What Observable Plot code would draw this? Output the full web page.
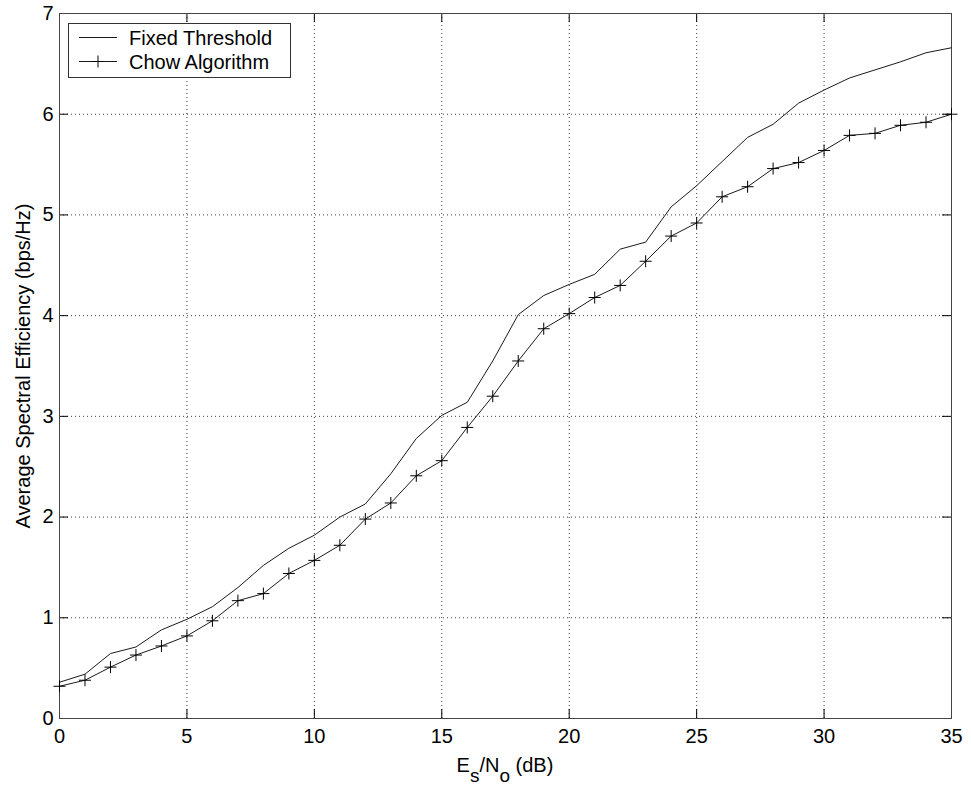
<!DOCTYPE html>
<html>
<head>
<meta charset="utf-8">
<script src="https://cdn.jsdelivr.net/npm/d3@7"></script>
<script src="https://cdn.jsdelivr.net/npm/@observablehq/plot@0.6"></script>
<style>
  body { margin: 0; background: #fff; }
  #chart { width: 971px; height: 785px; }
</style>
</head>
<body>
<div id="chart"></div>
<script>
// Es/No operating points (dB)
const snrDb = [0, 1, 2, 3, 4, 5, 6, 7, 8, 9, 10, 11, 12, 13, 14, 15, 16, 17,
  18, 19, 20, 21, 22, 23, 24, 25, 26, 27, 28, 29, 30, 31, 32, 33, 34, 35];

// Average spectral efficiency (bps/Hz), fixed-threshold bit loading
const fixedThreshold = [0.36, 0.44, 0.645, 0.71, 0.88, 0.985, 1.11, 1.30, 1.52, 1.69,
  1.82, 2.00, 2.13, 2.43, 2.78, 3.01, 3.14, 3.55, 4.01, 4.20, 4.31, 4.41, 4.66, 4.73,
  5.08, 5.29, 5.53, 5.77, 5.90, 6.11, 6.24, 6.36, 6.44, 6.52, 6.61, 6.66];

// Average spectral efficiency (bps/Hz), Chow bit-loading algorithm
const chowAlgorithm = [0.32, 0.38, 0.51, 0.63, 0.72, 0.82, 0.97, 1.17, 1.24, 1.44,
  1.57, 1.72, 1.98, 2.14, 2.41, 2.56, 2.89, 3.20, 3.55, 3.87, 4.02, 4.18, 4.30, 4.54,
  4.79, 4.92, 5.18, 5.28, 5.46, 5.52, 5.64, 5.79, 5.81, 5.89, 5.92, 6.00];

const seriesNames = ["Fixed Threshold", "Chow Algorithm"];
const xTicks = [0, 5, 10, 15, 20, 25, 30, 35];
const yTicks = [0, 1, 2, 3, 4, 5, 6, 7];
const yLabel = "Average Spectral Efficiency (bps/Hz)";

const fixedRows = snrDb.map((x, i) => ({x, y: fixedThreshold[i]}));
const chowRows = snrDb.map((x, i) => ({x, y: chowAlgorithm[i]}));

// Layout
const W = 971, H = 785;
const mL = 59, mR = 20, mT = 13, mB = 67;
const fw = W - mL - mR, fh = H - mT - mB;
const tickLen = 9;
const font = "'Liberation Sans', Arial, Helvetica, sans-serif";
const lineColor = "#1a1a1a";

// Thin "+" marker drawn as two strokes
const plusSymbol = {
  draw(ctx, size) {
    const r = Math.sqrt(size / Math.PI);
    ctx.moveTo(-r, 0); ctx.lineTo(r, 0);
    ctx.moveTo(0, -r); ctx.lineTo(0, r);
  }
};

const innerX = xTicks.slice(1, -1);
const innerY = yTicks.slice(1, -1);
const grid = {stroke: "#000", strokeOpacity: 0.75, strokeDasharray: "1,3", strokeWidth: 1};

const chart = Plot.plot({
  width: W, height: H,
  marginLeft: mL, marginRight: mR, marginTop: mT, marginBottom: mB,
  style: {fontFamily: font, fontSize: "20px", color: "#000", background: "#fff"},
  x: {domain: [0, 35], ticks: xTicks, tickFormat: "d", tickSize: 0, tickPadding: 10, label: null},
  y: {domain: [0, 7], ticks: yTicks, tickFormat: "d", tickSize: 0, tickPadding: 6, label: null},
  marks: [
    // dotted grid
    Plot.ruleX(innerX, {x: d => d, ...grid}),
    Plot.ruleY(innerY, {y: d => d, ...grid}),
    // inward ticks on all four sides
    Plot.ruleX(xTicks, {x: d => d, insetTop: fh - tickLen, stroke: "#000"}),
    Plot.ruleX(xTicks, {x: d => d, insetBottom: fh - tickLen, stroke: "#000"}),
    Plot.ruleY(yTicks, {y: d => d, insetRight: fw - tickLen, stroke: "#000"}),
    Plot.ruleY(yTicks, {y: d => d, insetLeft: fw - tickLen, stroke: "#000"}),
    Plot.frame({stroke: "#444", strokeWidth: 1}),
    // series
    Plot.line(fixedRows, {x: "x", y: "y", stroke: lineColor, strokeWidth: 1}),
    Plot.line(chowRows, {x: "x", y: "y", stroke: lineColor, strokeWidth: 1}),
    Plot.dot(chowRows, {x: "x", y: "y", symbol: plusSymbol, r: 6, fill: "none", stroke: "#000", strokeWidth: 1}),
    // y-axis title
    Plot.text([yLabel], {frameAnchor: "left", rotate: -90, textAnchor: "middle", dx: -36, fontSize: 20, fill: "#000"})
  ]
});

document.getElementById("chart").appendChild(chart);

const svg = d3.select(chart);

// x-axis title with subscripts
const xl = svg.append("text")
  .attr("x", mL + fw / 2).attr("y", 772)
  .attr("text-anchor", "middle")
  .attr("font-family", font).attr("font-size", 20).attr("fill", "#000");
xl.append("tspan").text("E");
xl.append("tspan").attr("dy", 10).attr("font-size", 19).text("s");
xl.append("tspan").attr("dy", -10).text("/N");
xl.append("tspan").attr("dy", 10).attr("font-size", 19).text("o");
xl.append("tspan").attr("dy", -10).text(" (dB)");

// legend box inside the top-left corner of the frame
const lg = svg.append("g").attr("font-family", font).attr("font-size", 20)
  .attr("text-anchor", "start");
lg.append("rect")
  .attr("x", 68.5).attr("y", 23.5).attr("width", 222).attr("height", 54)
  .attr("fill", "#fff").attr("stroke", "#333");
seriesNames.forEach((name, i) => {
  const cy = 37.5 + i * 24;
  lg.append("line").attr("x1", 79).attr("x2", 117).attr("y1", cy).attr("y2", cy)
    .attr("stroke", lineColor);
  if (i === 1) {
    lg.append("path").attr("d", `M92,${cy}h12M98,${cy - 6}v12`).attr("stroke", "#000").attr("fill", "none");
  }
  lg.append("text").attr("x", 129).attr("y", cy).attr("dy", "0.35em")
    .attr("text-anchor", "start").attr("fill", "#000").text(name);
});
</script>
</body>
</html>
